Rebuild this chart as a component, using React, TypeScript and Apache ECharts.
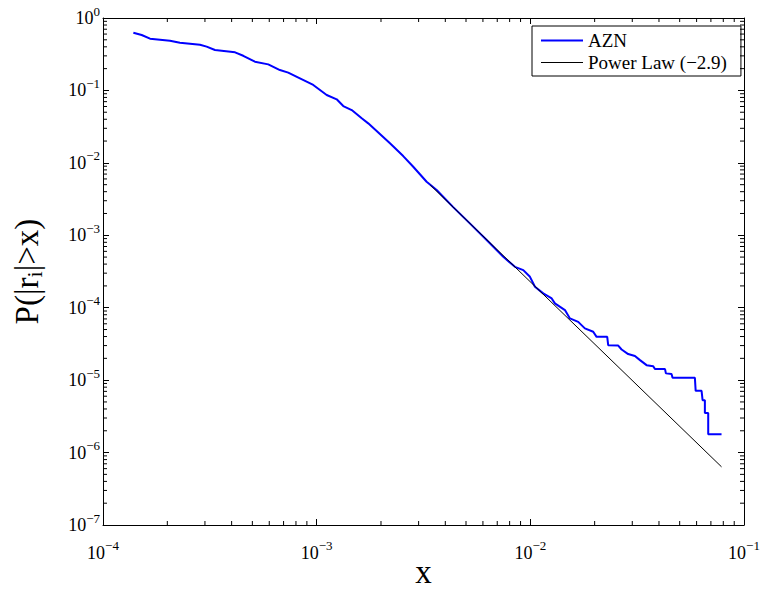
import React, { useEffect, useRef } from "react";
import * as echarts from "echarts";

const aznX = [1.387e-4, 1.517e-4, 1.66e-4, 2.058e-4, 2.291e-4, 2.844e-4, 3.055e-4, 3.342e-4, 4.15e-4, 4.533e-4,
  5.14e-4, 5.935e-4, 6.73e-4, 7.36e-4, 8.35e-4, 9.64e-4, 1.114e-3, 1.241e-3, 1.332e-3, 1.459e-3,
  1.625e-3, 1.743e-3, 1.977e-3, 2.203e-3, 2.541e-3, 2.831e-3, 3.27e-3, 3.643e-3, 4.355e-3, 5.21e-3,
  6.245e-3, 7.47e-3, 8.47e-3, 9.27e-3, 9.96e-3, 1.051e-2, 1.149e-2, 1.259e-2,
  1.303e-2, 1.452e-2, 1.532e-2, 1.675e-2, 1.80e-2, 1.969e-2, 2.042e-2, 2.29e-2, 2.314e-2, 2.578e-2,
  2.674e-2, 2.87e-2, 3.087e-2, 3.26e-2, 3.50e-2, 3.76e-2, 3.83e-2, 4.27e-2, 4.31e-2, 4.58e-2,
  4.63e-2, 5.89e-2, 5.94e-2, 6.33e-2, 6.40e-2, 6.56e-2, 6.56e-2, 6.80e-2, 6.80e-2, 7.85e-2];
const aznY = [0.626, 0.582, 0.518, 0.486, 0.456, 0.428, 0.402, 0.361, 0.336, 0.301,
  0.249, 0.229, 0.191, 0.176, 0.147, 0.119, 0.0864, 0.0754, 0.0609, 0.0536,
  0.0412, 0.0351, 0.025, 0.0186, 0.01241, 0.00883, 0.00548, 0.00421, 0.00245, 0.00146,
  8.59e-4, 5.05e-4, 3.67e-4, 3.30e-4, 2.67e-4, 1.945e-4, 1.576e-4, 1.344e-4,
  1.147e-4, 9.27e-5, 7.11e-5, 6.38e-5, 5.18e-5, 4.65e-5, 3.96e-5, 3.96e-5, 3.04e-5, 3.0e-5,
  2.65e-5, 2.29e-5, 2.15e-5, 1.89e-5, 1.61e-5, 1.56e-5, 1.42e-5, 1.42e-5, 1.24e-5, 1.22e-5,
  1.076e-5, 1.076e-5, 7.11e-6, 7.11e-6, 5.29e-6, 5.29e-6, 3.53e-6, 3.53e-6, 1.795e-6, 1.795e-6];

const powerLawX = [3.4e-3, 7.85e-2];
const powerLawY = [4.95e-3, 6.35e-7];

const seriesNames = ["AZN", "Power Law (\u22122.9)"];
const xRange = [1e-4, 1e-1];
const yRange = [1e-7, 1];

const FONT = "Liberation Serif";

function minorTicks(lo: number, hi: number): number[] {
  const out: number[] = [];
  for (let d = lo; d < hi; d *= 10) {
    for (let m = 2; m <= 9; m++) out.push(+(m * d).toPrecision(3));
  }
  return out;
}

const xMinor = minorTicks(xRange[0], xRange[1]);
const yMinor = minorTicks(yRange[0], yRange[1]);

function powLabel(v: number) {
  const e = Math.round(Math.log10(v));
  const s = e < 0 ? "\u2212" + -e : String(e);
  return `{b|10}{s|${s}}`;
}

const richLabel = {
  b: { fontFamily: FONT, fontSize: 18, color: "#000" },
  s: { fontFamily: FONT, fontSize: 13, color: "#000", padding: [0, 0, 14, 0] },
};

export default function App() {
  const ref = useRef<HTMLDivElement>(null);
  useEffect(() => {
    if (!ref.current) return;
    const chart = echarts.init(ref.current, null, { renderer: "svg" });
    const axisCommon = {
      type: "log" as const,
      logBase: 10,
      axisLine: { show: true, lineStyle: { color: "#000", width: 1 } },
      axisTick: { show: true, inside: true, length: 6, lineStyle: { color: "#000", width: 1 } },
      splitLine: { show: false },
    };
    chart.setOption({
      animation: false,
      backgroundColor: "#fff",
      grid: { left: 103, top: 18, right: 17, bottom: 65, containLabel: false, outerBoundsMode: "none" },
      legend: {
        data: seriesNames,
        orient: "vertical",
        left: 532,
        top: 26,
        backgroundColor: "#fff",
        borderColor: "#000",
        borderWidth: 1,
        borderRadius: 0,
        padding: [5, 14, 4, 8],
        itemWidth: 42,
        itemHeight: 14,
        itemGap: 3,
        itemStyle: { opacity: 0 },
        lineStyle: { width: "inherit" },
        textStyle: { fontFamily: FONT, fontSize: 19, lineHeight: 19, color: "#000" },
      },
      xAxis: [
        {
          ...axisCommon,
          min: xRange[0],
          max: xRange[1],
          splitNumber: 3,
          position: "bottom",
          name: "x",
          nameLocation: "middle",
          nameGap: 30,
          nameMoveOverlap: false,
          nameTextStyle: { fontFamily: FONT, fontSize: 33, lineHeight: 33, color: "#000" },
          axisLabel: { margin: 14, fontFamily: FONT, fontSize: 18, color: "#000", formatter: powLabel, rich: richLabel },
        },
        {
          ...axisCommon,
          min: xRange[0],
          max: xRange[1],
          splitNumber: 3,
          position: "top",
          axisLabel: { show: false },
        },
      ],
      yAxis: [
        {
          ...axisCommon,
          min: yRange[0],
          max: yRange[1],
          splitNumber: 7,
          position: "left",
          name: "P(|r{sub|i}|>x)",
          nameLocation: "middle",
          nameRotate: 90,
          nameGap: 58,
          nameMoveOverlap: false,
          nameTextStyle: {
            fontFamily: FONT,
            fontSize: 33,
            color: "#000",
            rich: {
              sub: { fontFamily: FONT, fontSize: 22, color: "#000", padding: [14, 0, 0, 0] },
            },
          },
          axisLabel: { margin: 3, fontFamily: FONT, fontSize: 18, color: "#000", formatter: powLabel, rich: richLabel },
        },
        {
          ...axisCommon,
          min: yRange[0],
          max: yRange[1],
          splitNumber: 7,
          position: "right",
          axisLabel: { show: false },
        },
      ],
      series: [
        {
          name: seriesNames[0],
          type: "line",
          data: aznX.map((x, i) => [x, aznY[i]]),
          symbol: "none",
          lineStyle: { color: "#0000ff", width: 2 },
          itemStyle: { color: "#0000ff" },
          z: 3,
        },
        {
          name: seriesNames[1],
          type: "line",
          data: powerLawX.map((x, i) => [x, powerLawY[i]]),
          symbol: "none",
          lineStyle: { color: "#000", width: 1 },
          itemStyle: { color: "#000" },
          z: 4,
        },
        {
          type: "custom",
          silent: true,
          data: xMinor.map((v) => [v, yRange[0]]),
          renderItem: (params: any, api: any) => {
            const v = api.value(0);
            const b = api.coord([v, yRange[0]]);
            const t = api.coord([v, yRange[1]]);
            return {
              type: "group",
              children: [
                { type: "line", shape: { x1: b[0], y1: b[1], x2: b[0], y2: b[1] - 4 }, style: { stroke: "#000", lineWidth: 1 } },
                { type: "line", shape: { x1: t[0], y1: t[1], x2: t[0], y2: t[1] + 4 }, style: { stroke: "#000", lineWidth: 1 } },
              ],
            };
          },
          z: 5,
        },
        {
          type: "custom",
          silent: true,
          data: yMinor.map((v) => [xRange[0], v]),
          renderItem: (params: any, api: any) => {
            const v = api.value(1);
            const l = api.coord([xRange[0], v]);
            const r = api.coord([xRange[1], v]);
            return {
              type: "group",
              children: [
                { type: "line", shape: { x1: l[0], y1: l[1], x2: l[0] + 4, y2: l[1] }, style: { stroke: "#000", lineWidth: 1 } },
                { type: "line", shape: { x1: r[0], y1: r[1], x2: r[0] - 4, y2: r[1] }, style: { stroke: "#000", lineWidth: 1 } },
              ],
            };
          },
          z: 5,
        },
      ],
    });
    return () => chart.dispose();
  }, []);
  return (
    <div
      ref={ref}
      style={{ position: "fixed", left: 0, top: 0, width: 761, height: 590, background: "#fff" }}
    />
  );
}
